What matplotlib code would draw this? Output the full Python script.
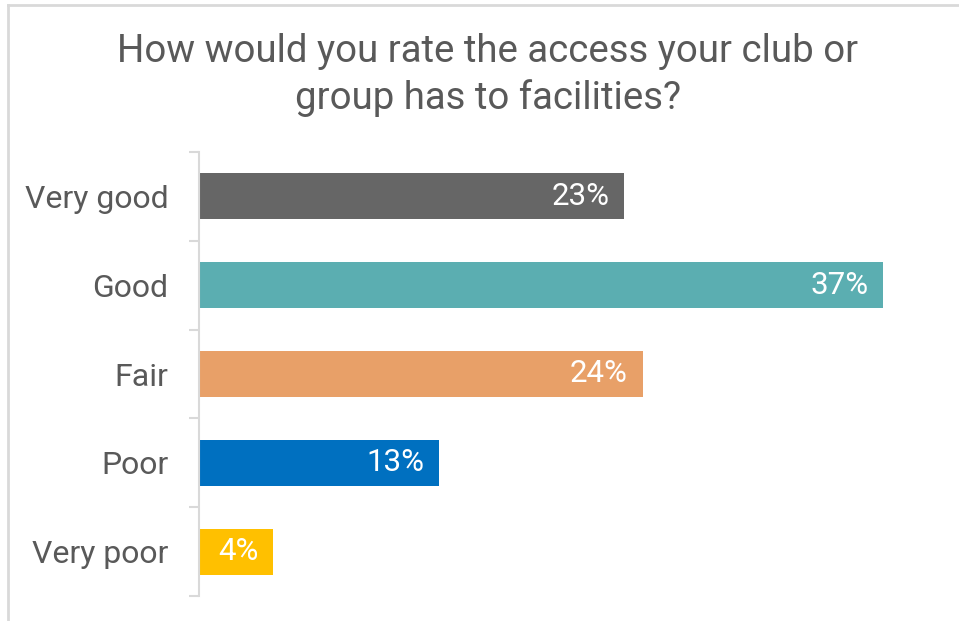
import numpy as np
import matplotlib.pyplot as plt
from matplotlib.lines import Line2D

categories = ["Very good", "Good", "Fair", "Poor", "Very poor"]
values = [23, 37, 24, 13, 4]
colors = ["#666666", "#5BAEB1", "#E8A068", "#0070C0", "#FFC000"]

plt.rcParams['font.family'] = ['Roboto', 'DejaVu Sans']

fig = plt.figure(figsize=(9.59, 6.21), dpi=100)
ax = fig.add_axes([199/959, 1 - 596/621, 700/959, (596 - 152)/621])

y = np.arange(len(categories))
ax.barh(y, values, height=0.52, color=colors)

for yi, v in zip(y, values):
    ax.text(v - 0.8, yi, f"{v}%", ha='right', va='center', color='white', fontsize=22.5)

ax.set_xlim(0, 700/18.49)
ax.set_ylim(len(categories) - 0.5, -0.5)
ax.set_yticks(y)
ax.set_yticklabels(categories, fontsize=23, color='#595959')
ax.tick_params(axis='y', which='major', length=0, pad=22)
ax.set_yticks(np.arange(-0.5, len(categories)), minor=True)
ax.tick_params(axis='y', which='minor', length=7.5, width=1.5, color='#d9d9d9')
ax.set_xticks([])
for s in ['top', 'right', 'bottom']:
    ax.spines[s].set_visible(False)
ax.spines['left'].set_color('#d9d9d9')
ax.spines['left'].set_linewidth(1.5)

fig.text(488/959, 1 - 75/621, "How would you rate the access your club or\ngroup has to facilities?",
         ha='center', va='center', fontsize=27.6, color='#595959', linespacing=1.28)

# light frame on left and top
fig.add_artist(Line2D([8/959, 8/959], [0, 1 - 5/621], transform=fig.transFigure, color='#d9d9d9', lw=2))
fig.add_artist(Line2D([8/959, 1], [1 - 5/621, 1 - 5/621], transform=fig.transFigure, color='#d9d9d9', lw=2))

fig.savefig("out.png", dpi=100)
